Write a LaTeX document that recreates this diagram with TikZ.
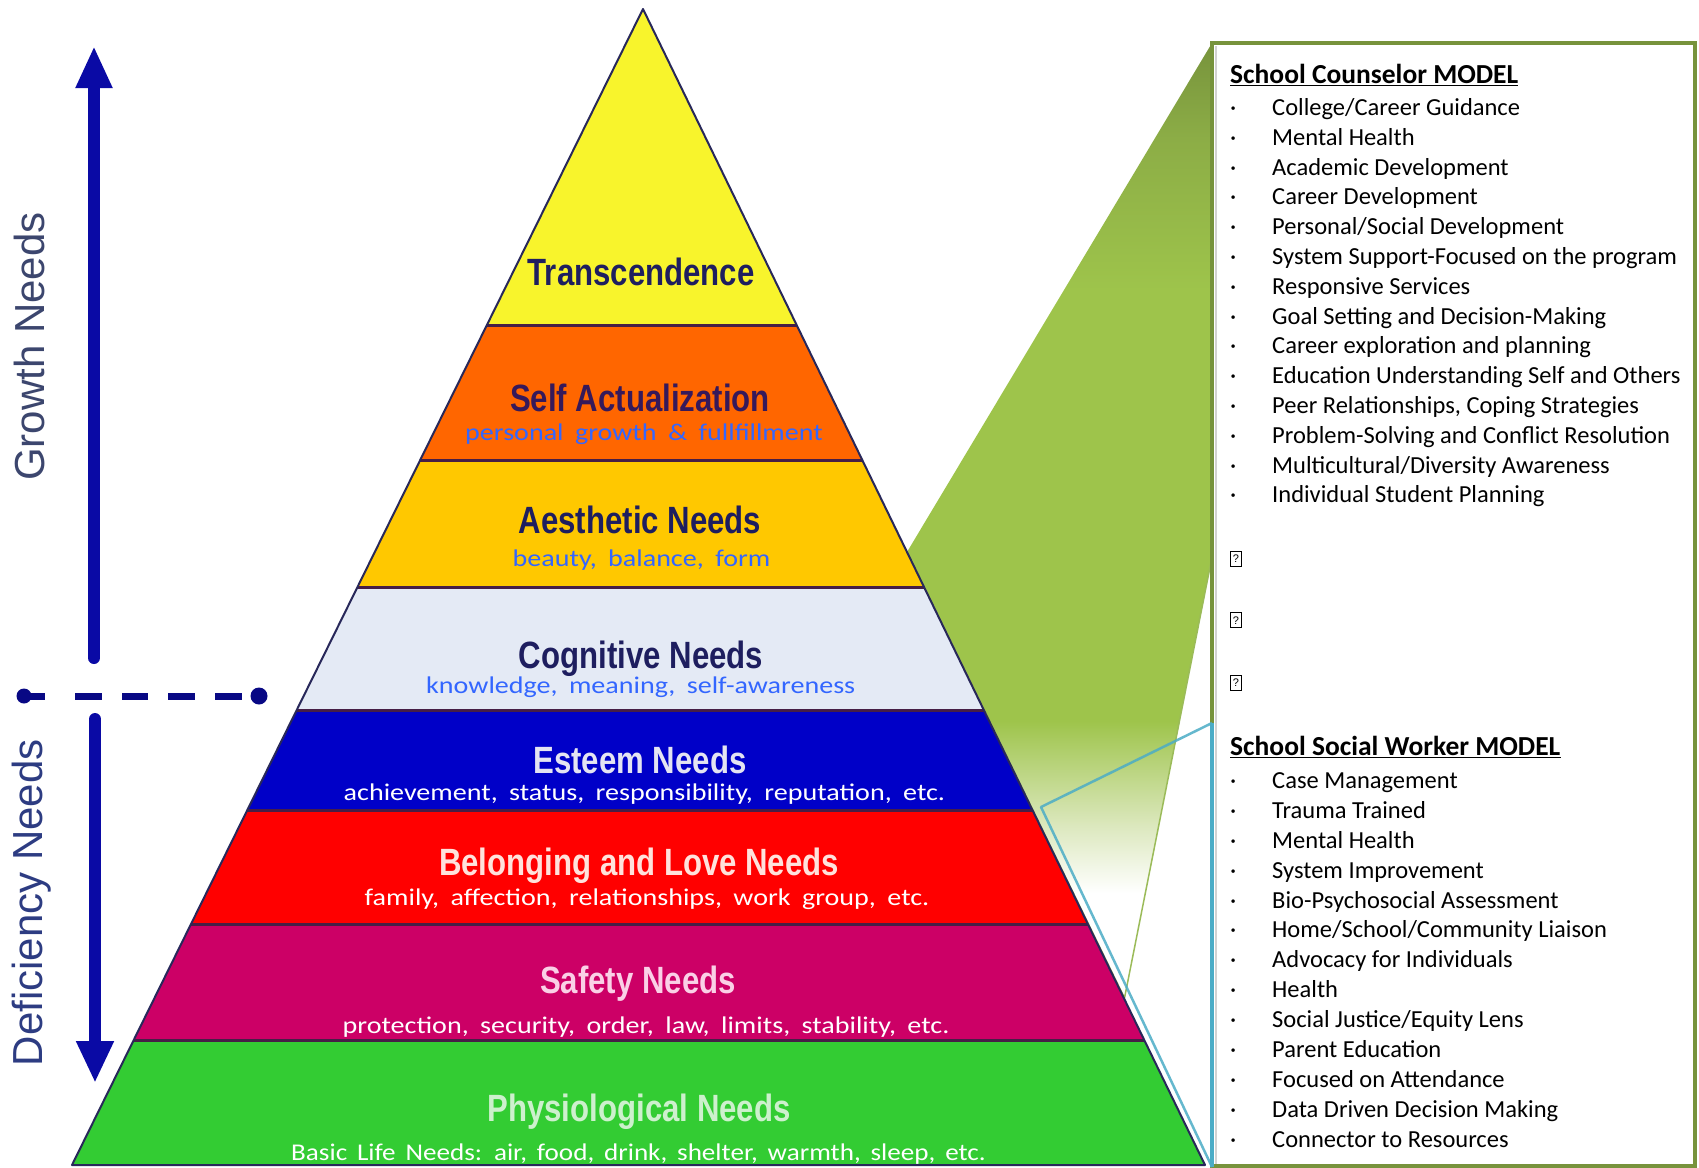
\documentclass[tikz,border=0pt]{standalone}
\usepackage{fontspec}
\setmainfont{Carlito}
\newfontfamily\arialf{Liberation Sans}
\newfontfamily\narrowf[FakeStretch=0.82]{Liberation Sans}
\newfontfamily\subf[FakeStretch=1.17,WordSpace=1.8]{Carlito}
\newfontfamily\subfb[FakeStretch=1.13,WordSpace=1.6]{Carlito}
\usetikzlibrary{arrows.meta}
\definecolor{cTrans}{RGB}{248,244,44}
\definecolor{cSelf}{RGB}{255,102,0}
\definecolor{cAesth}{RGB}{255,200,0}
\definecolor{cCogn}{RGB}{228,234,245}
\definecolor{cEsteem}{RGB}{0,0,200}
\definecolor{cBelong}{RGB}{255,0,0}
\definecolor{cSafety}{RGB}{204,0,102}
\definecolor{cPhys}{RGB}{51,204,51}
\definecolor{navyT}{RGB}{30,30,95}
\definecolor{subblue}{RGB}{51,102,255}
\definecolor{arrowblue}{RGB}{10,10,165}
\definecolor{olivec}{RGB}{119,147,60}
\definecolor{tealc}{RGB}{75,172,198}
\definecolor{gdark}{RGB}{119,147,60}
\definecolor{gmidtwo}{RGB}{140,173,70}
\definecolor{gmid}{RGB}{158,196,75}
\definecolor{gpale}{RGB}{220,232,190}
\definecolor{growthc}{RGB}{60,70,110}
\definecolor{deficc}{RGB}{45,60,130}
\definecolor{sepc}{RGB}{70,30,70}
\definecolor{pyrc}{RGB}{40,40,90}
\pgfdeclareverticalshading{greenfade}{100bp}{color(0bp)=(white); color(30.5bp)=(white); color(34bp)=(gpale); color(39.5bp)=(gmid); color(62bp)=(gmid); color(70bp)=(gmidtwo); color(75bp)=(gdark); color(100bp)=(gdark)}
\begin{document}
\begin{tikzpicture}[x=1pt,y=-1pt,
  bandtitle/.style={inner sep=0pt, anchor=base, font=\narrowf\bfseries\fontsize{38}{40}\selectfont},
  bandsub/.style={inner sep=0pt, anchor=base west, font=\subf\fontsize{24}{28}\selectfont},
  panelhead/.style={inner sep=0pt, anchor=base west, font=\bfseries\fontsize{27.5}{30}\selectfont},
  panelitem/.style={inner sep=0pt, anchor=base west, font=\fontsize{24.5}{28}\selectfont},
  sidelabel/.style={inner sep=0pt, anchor=base, rotate=90, font=\arialf\fontsize{42}{46}\selectfont},
  blankmark/.style={draw, line width=1pt, inner sep=0pt, minimum width=10.5pt, minimum height=15pt, font=\arialf\fontsize{11}{12}\selectfont},
  sep/.style={draw=sepc, line width=3pt},
  pyr/.style={draw=pyrc, line width=2pt, line join=round},
  bigarrow/.style={draw=arrowblue, line width=12pt, line cap=round}
]
\useasboundingbox (0,0) rectangle (1699,1167);
\fill[white] (0,0) rectangle (1699,1167);

% ---------- green callout ----------
\coordinate (g1) at (1212,43);
\coordinate (g2) at (907,552);
\coordinate (g3) at (1124.5,998);
\coordinate (g4) at (1213,552);
\shade[shading=greenfade] (g1) -- (g2) -- (g3) -- (g4) -- cycle;
\draw[draw={rgb,255:red,155;green,187;blue,89}, line width=1.5pt, line join=round] (g2) -- (g3) -- (g4);

% ---------- pyramid ----------
\coordinate (apex) at (643,9);
\coordinate (bl) at (72,1165);
\coordinate (br) at (1205,1165);
\begin{scope}
  \clip (apex) -- (bl) -- (br) -- cycle;
  \fill[cTrans] (0,0) rectangle (1699,325);
  \fill[cSelf] (0,325) rectangle (1699,460);
  \fill[cAesth] (0,460) rectangle (1699,587);
  \fill[cCogn] (0,587) rectangle (1699,710);
  \fill[cEsteem] (0,710) rectangle (1699,810);
  \fill[cBelong] (0,810) rectangle (1699,924);
  \fill[cSafety] (0,924) rectangle (1699,1040);
  \fill[cPhys] (0,1040) rectangle (1699,1167);
  \foreach \yy in {325,460,587,710,810,924,1040}
    \draw[sep] (0,\yy) -- (1699,\yy);
\end{scope}
\draw[pyr] (apex) -- (bl) -- (br) -- cycle;

% ---------- pyramid texts ----------
\node[bandtitle, text=navyT] (tTrans) at (641,285) {Transcendence};
\node[bandtitle, text=navyT!85!purple] (tSelf) at (640,411) {Self Actualization};
\node[bandsub, text=subblue] (sSelf) at (465,440) {personal growth \& fullfillment};
\node[bandtitle, text=navyT] (tAesth) at (640,533) {Aesthetic Needs};
\node[bandsub, text=subblue] (sAesth) at (512.5,566.5) {beauty, balance, form};
\node[bandtitle, text=navyT] (tCogn) at (641,668) {Cognitive Needs};
\node[bandsub, text=subblue] (sCogn) at (426,693) {knowledge, meaning, self-awareness};
\node[bandtitle, text={rgb,255:red,228;green,228;blue,242}] (tEsteem) at (640,773) {Esteem Needs};
\node[bandsub, text=white] (sEsteem) at (343.5,800) {achievement, status, responsibility, reputation, etc.};
\node[bandtitle, text={rgb,255:red,255;green,226;blue,220}] (tBelong) at (639,875) {Belonging and Love Needs};
\node[bandsub, text=white] (sBelong) at (364.5,905) {family, affection, relationships, work group, etc.};
\node[bandtitle, text={rgb,255:red,250;green,208;blue,230}] (tSafety) at (638,993) {Safety Needs};
\node[bandsub, text=white] (sSafety) at (342.5,1033) {protection, security, order, law, limits, stability, etc.};
\node[bandtitle, text={rgb,255:red,205;green,240;blue,205}] (tPhys) at (639,1121.5) {Physiological Needs};
\node[bandsub, font=\subfb\fontsize{24}{28}\selectfont, text=white] (sPhys) at (291,1160) {Basic Life Needs: air, food, drink, shelter, warmth, sleep, etc.};

% ---------- right panel ----------
\draw[draw=olivec, line width=4pt, fill=white] (1212,43) rectangle (1695,1166);
\draw[gray!35, line width=2pt] (1215.5,46) -- (1215.5,1164);
\coordinate (q1) at (1212,723);
\coordinate (q2) at (1041,807);
\coordinate (q3) at (1212,1167);
\draw[draw=tealc, line width=2.5pt, line join=round, draw opacity=0.85] (q1) -- (q2) -- (q3);
\draw[draw=tealc, line width=4pt] (q1) -- (q3);

\node[panelhead] (hCouns) at (1230,83.3) {School Counselor MODEL};
\draw[line width=1.4pt] ([yshift=-2pt]hCouns.base west) -- ([yshift=-2pt]hCouns.base east);
\foreach \t [count=\i from 0] in {{College/Career Guidance},{Mental Health},{Academic Development},{Career Development},{Personal/Social Development},{System Support-Focused on the program},{Responsive Services},{Goal Setting and Decision-Making},{Career exploration and planning},{Education Understanding Self and Others},{Peer Relationships, Coping Strategies},{Problem-Solving and Conflict Resolution},{Multicultural/Diversity Awareness},{Individual Student Planning}} {
  \node[panelitem] (cb\i) at (1230,{115.5+29.8*\i}) {·};
  \node[panelitem] (ci\i) at (1272,{115.5+29.8*\i}) {\t};
}
\node[blankmark] (bk1) at (1236,558.7) {?};
\node[blankmark] (bk2) at (1236,620.4) {?};
\node[blankmark] (bk3) at (1236,683) {?};

\node[panelhead] (hSocial) at (1230,755.2) {School Social Worker MODEL};
\draw[line width=1.4pt] ([yshift=-2pt]hSocial.base west) -- ([yshift=-2pt]hSocial.base east);
\foreach \t [count=\i from 0] in {{Case Management},{Trauma Trained},{Mental Health},{System Improvement},{Bio-Psychosocial Assessment},{Home/School/Community Liaison},{Advocacy for Individuals},{Health},{Social Justice/Equity Lens},{Parent Education},{Focused on Attendance},{Data Driven Decision Making},{Connector to Resources}} {
  \node[panelitem] (sb\i) at (1230,{788.4+29.9*\i}) {·};
  \node[panelitem] (si\i) at (1272,{788.4+29.9*\i}) {\t};
}

% ---------- left side ----------
\coordinate (upStart) at (94,658);
\coordinate (upTip) at (94,46);
\draw[bigarrow, -{Triangle[length=42pt,width=34pt]}] (upStart) -- (upTip);
\coordinate (dnStart) at (95,719);
\coordinate (dnTip) at (95,1083);
\draw[bigarrow, -{Triangle[length=42pt,width=35pt]}] (dnStart) -- (dnTip);

\coordinate (dashL) at (24,696);
\coordinate (dashR) at (259,696);
\draw[draw=arrowblue!80!black, line width=7pt, dash pattern=on 21pt off 30pt on 27pt off 20pt on 26pt off 20pt on 27pt off 20pt on 27pt off 40pt] (dashL) -- (dashR);
\fill[arrowblue!80!black] (dashL) circle (7.5pt);
\fill[arrowblue!80!black] (dashR) circle (8.5pt);

\node[sidelabel, text=growthc] (growth) at (44,346.5) {Growth Needs};
\node[sidelabel, text=deficc] (defic) at (42,902.6) {Deficiency Needs};
\end{tikzpicture}
\end{document}
